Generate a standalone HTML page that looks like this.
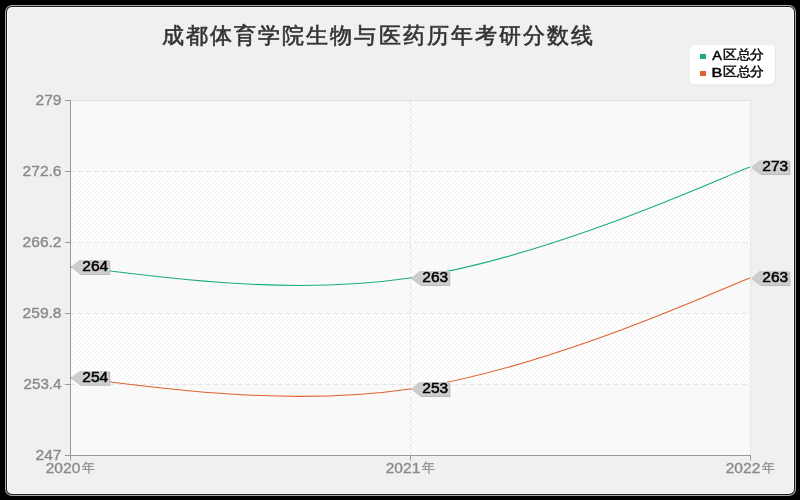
<!DOCTYPE html>
<html><head><meta charset="utf-8"><style>
html,body{margin:0;padding:0;background:#000;width:800px;height:500px;overflow:hidden}
svg{display:block;will-change:transform}
text{font-family:"Liberation Sans",sans-serif}
.ax{font-size:14.5px;fill:#8a8a8a;stroke:#8a8a8a;stroke-width:0.35px}
.axc{font-size:13.3px;fill:#8a8a8a;stroke:#8a8a8a;stroke-width:0.2px}
.tg{font-size:14px;fill:#000;font-weight:normal;stroke:#000;stroke-width:0.5px}
.ttl{font-size:22px;fill:#333;font-weight:normal;stroke:#333;stroke-width:0.6px}
.lg{font-size:13px;fill:#000;font-weight:normal;stroke:#000;stroke-width:0.5px}
.lgc{font-size:13px;fill:#000;stroke:#000;stroke-width:0.4px}
</style></head><body>
<svg width="800" height="500" viewBox="0 0 800 500">
<defs>
<pattern id="hatch" patternUnits="userSpaceOnUse" width="4" height="4">
<rect width="4" height="4" fill="#ffffff"/>
<rect x="0" y="3" width="1" height="1" fill="#efefef"/>
<rect x="1" y="2" width="1" height="1" fill="#efefef"/>
<rect x="2" y="1" width="1" height="1" fill="#efefef"/>
<rect x="3" y="0" width="1" height="1" fill="#efefef"/>
</pattern>
<pattern id="hatch2" patternUnits="userSpaceOnUse" width="4" height="4">
<rect width="4" height="4" fill="#fbfbfb"/>
<rect x="0" y="3" width="1" height="1" fill="#f4f4f4"/>
<rect x="1" y="2" width="1" height="1" fill="#f4f4f4"/>
<rect x="2" y="1" width="1" height="1" fill="#f4f4f4"/>
<rect x="3" y="0" width="1" height="1" fill="#f4f4f4"/>
</pattern>
</defs>
<rect x="0" y="0" width="800" height="500" fill="#000"/>
<rect x="5" y="5" width="791" height="491" rx="7" fill="#aaa"/>
<rect x="6" y="6" width="789" height="489" rx="6" fill="#1a1a1a"/>
<rect x="7" y="7" width="787" height="487" rx="5" fill="#fafafa"/>
<rect x="8" y="8" width="785" height="485" rx="4" fill="#f0f0f0"/>
<rect x="71" y="101" width="679" height="354" fill="url(#hatch2)"/>
<rect x="71" y="172" width="679" height="70" fill="url(#hatch)"/>
<rect x="71" y="314" width="679" height="70" fill="url(#hatch)"/>
<text x="162" y="43.3" class="ttl" textLength="431" lengthAdjust="spacing">成都体育学院生物与医药历年考研分数线</text>
<rect x="691" y="46" width="85" height="39.5" rx="5" fill="#e4e4e4"/>
<rect x="690" y="45" width="85" height="39.5" rx="5" fill="#fff"/>
<rect x="700" y="54" width="6" height="5" fill="#1aae7a"/>
<rect x="700" y="71" width="6" height="5" fill="#e0612f"/>
<text x="712.3" y="59.6" class="lg" textLength="9.6" lengthAdjust="spacingAndGlyphs">A</text>
<text x="722.8" y="58.9" class="lgc" textLength="41.5" lengthAdjust="spacingAndGlyphs">区总分</text>
<text x="711.6" y="76.6" class="lg" textLength="10.8" lengthAdjust="spacingAndGlyphs">B</text>
<text x="722.8" y="75.9" class="lgc" textLength="41.5" lengthAdjust="spacingAndGlyphs">区总分</text>
<line x1="70" y1="171.5" x2="750" y2="171.5" stroke="#e5e5e5" stroke-dasharray="5 3"/>
<line x1="70" y1="242.5" x2="750" y2="242.5" stroke="#e5e5e5" stroke-dasharray="5 3"/>
<line x1="70" y1="313.5" x2="750" y2="313.5" stroke="#e5e5e5" stroke-dasharray="5 3"/>
<line x1="70" y1="384.5" x2="750" y2="384.5" stroke="#e5e5e5" stroke-dasharray="5 3"/>
<line x1="410.5" y1="100" x2="410.5" y2="455" stroke="#e5e5e5" stroke-dasharray="5 3"/>
<line x1="70" y1="100.5" x2="751" y2="100.5" stroke="#e0e0e0"/>
<line x1="750.5" y1="101" x2="750.5" y2="455" stroke="#e6e6e6"/>
<line x1="70.5" y1="100" x2="70.5" y2="456" stroke="#999" />
<line x1="65" y1="455.5" x2="751" y2="455.5" stroke="#999" />
<line x1="65" y1="100.5" x2="70" y2="100.5" stroke="#999"/>
<line x1="65" y1="171.5" x2="70" y2="171.5" stroke="#999"/>
<line x1="65" y1="242.5" x2="70" y2="242.5" stroke="#999"/>
<line x1="65" y1="313.5" x2="70" y2="313.5" stroke="#999"/>
<line x1="65" y1="384.5" x2="70" y2="384.5" stroke="#999"/>
<line x1="65" y1="455.5" x2="70" y2="455.5" stroke="#999"/>
<line x1="70.5" y1="455" x2="70.5" y2="460.5" stroke="#999"/>
<line x1="410.5" y1="455" x2="410.5" y2="460.5" stroke="#999"/>
<line x1="750.5" y1="455" x2="750.5" y2="460.5" stroke="#999"/>
<text x="61.5" y="105" text-anchor="end" class="ax" textLength="25.9" lengthAdjust="spacingAndGlyphs">279</text>
<text x="61.5" y="176" text-anchor="end" class="ax" textLength="38.9" lengthAdjust="spacingAndGlyphs">272.6</text>
<text x="61.5" y="247" text-anchor="end" class="ax" textLength="38.9" lengthAdjust="spacingAndGlyphs">266.2</text>
<text x="61.5" y="318" text-anchor="end" class="ax" textLength="38.9" lengthAdjust="spacingAndGlyphs">259.8</text>
<text x="61.5" y="389" text-anchor="end" class="ax" textLength="38" lengthAdjust="spacingAndGlyphs">253.4</text>
<text x="61.5" y="460" text-anchor="end" class="ax" textLength="25.9" lengthAdjust="spacingAndGlyphs">247</text>
<text x="45.7" y="473" class="ax" textLength="34.6" lengthAdjust="spacingAndGlyphs">2020</text>
<text x="81.7" y="471.6" class="axc">年</text>
<text x="385.7" y="473" class="ax" textLength="34.6" lengthAdjust="spacingAndGlyphs">2021</text>
<text x="421.7" y="471.6" class="axc">年</text>
<text x="725.7" y="473" class="ax" textLength="34.6" lengthAdjust="spacingAndGlyphs">2022</text>
<text x="761.7" y="471.6" class="axc">年</text>
<path d="M70.00 266.91 C111.14 268.25 265.30 299.25 410.00 278.00 C553.82 256.88 730.62 173.39 750.00 167.06" fill="none" stroke="#1aae7a" stroke-width="1.05"/>
<path d="M70.00 377.84 C111.14 379.19 265.30 410.18 410.00 388.94 C553.82 367.82 730.62 284.32 750.00 278.00" fill="none" stroke="#e0612f" stroke-width="1.05"/>
<path d="M71.7 267.80625 L80.0 261.00625 L110.3 261.00625 L110.3 274.90625 L81.1 274.90625 Z" fill="#bbbbbb"/><path d="M71.2 266.80625 L79.5 260.00625 L109.3 260.00625 L109.3 273.90625 L80.6 273.90625 Z" fill="#cdcdcd"/><text x="82.3" y="270.90625" class="tg" textLength="25.8" lengthAdjust="spacingAndGlyphs">264</text>
<path d="M411.7 278.9 L420.0 272.1 L450.3 272.1 L450.3 286.0 L421.1 286.0 Z" fill="#bbbbbb"/><path d="M411.2 277.9 L419.5 271.1 L449.3 271.1 L449.3 285.0 L420.6 285.0 Z" fill="#cdcdcd"/><text x="422.3" y="282.0" class="tg" textLength="25.8" lengthAdjust="spacingAndGlyphs">263</text>
<path d="M751.7 167.9625 L760.0 161.1625 L790.3 161.1625 L790.3 175.0625 L761.1 175.0625 Z" fill="#bbbbbb"/><path d="M751.2 166.9625 L759.5 160.1625 L789.3 160.1625 L789.3 174.0625 L760.6 174.0625 Z" fill="#cdcdcd"/><text x="762.3" y="171.0625" class="tg" textLength="25.8" lengthAdjust="spacingAndGlyphs">273</text>
<path d="M71.7 378.74375 L80.0 371.94375 L110.3 371.94375 L110.3 385.84375 L81.1 385.84375 Z" fill="#bbbbbb"/><path d="M71.2 377.74375 L79.5 370.94375 L109.3 370.94375 L109.3 384.84375 L80.6 384.84375 Z" fill="#cdcdcd"/><text x="82.3" y="381.84375" class="tg" textLength="25.8" lengthAdjust="spacingAndGlyphs">254</text>
<path d="M411.7 389.8375 L420.0 383.0375 L450.3 383.0375 L450.3 396.9375 L421.1 396.9375 Z" fill="#bbbbbb"/><path d="M411.2 388.8375 L419.5 382.0375 L449.3 382.0375 L449.3 395.9375 L420.6 395.9375 Z" fill="#cdcdcd"/><text x="422.3" y="392.9375" class="tg" textLength="25.8" lengthAdjust="spacingAndGlyphs">253</text>
<path d="M751.7 278.9 L760.0 272.1 L790.3 272.1 L790.3 286.0 L761.1 286.0 Z" fill="#bbbbbb"/><path d="M751.2 277.9 L759.5 271.1 L789.3 271.1 L789.3 285.0 L760.6 285.0 Z" fill="#cdcdcd"/><text x="762.3" y="282.0" class="tg" textLength="25.8" lengthAdjust="spacingAndGlyphs">263</text>
</svg>
</body></html>
